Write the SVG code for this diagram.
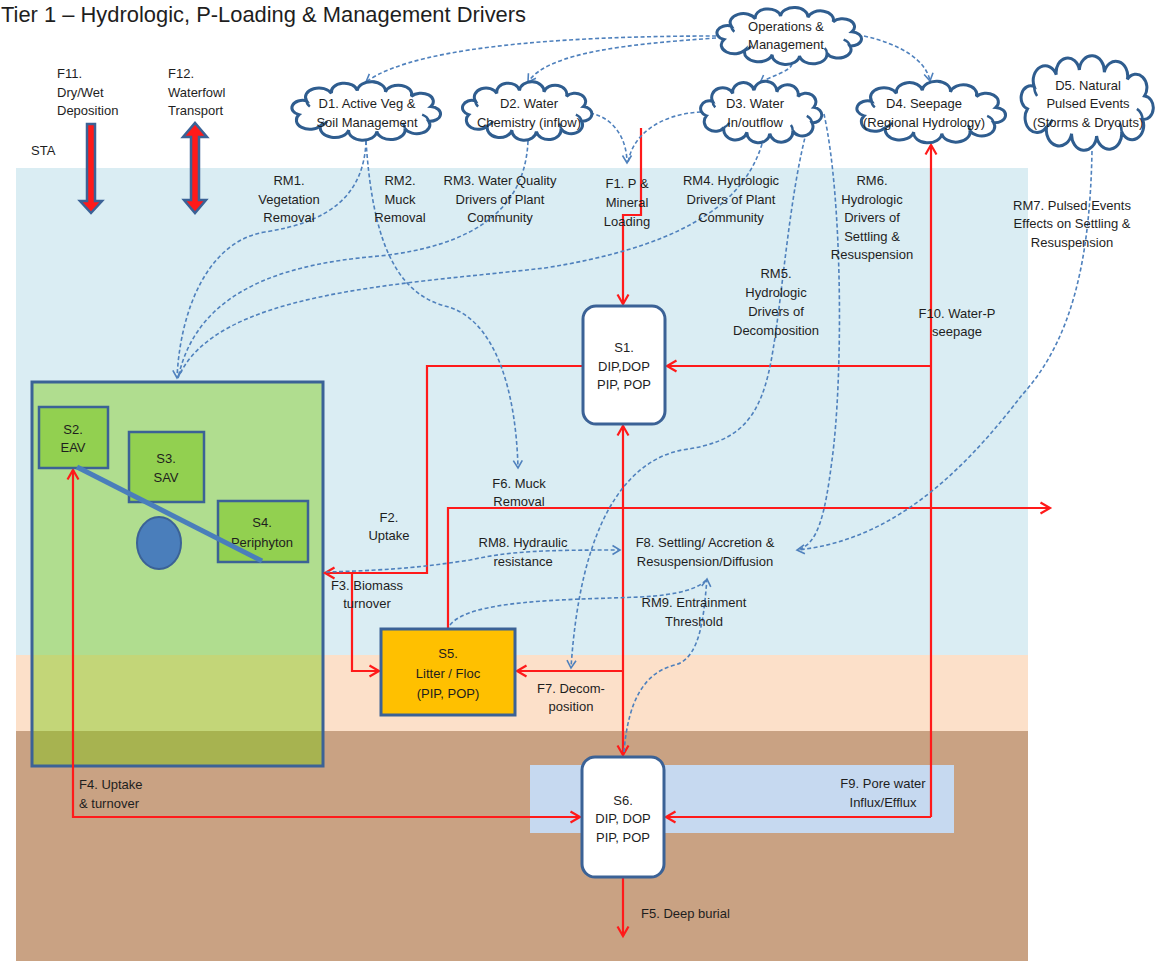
<svg xmlns="http://www.w3.org/2000/svg" width="1155" height="961" viewBox="0 0 1155 961">
<defs>
<style>
text{font-family:"Liberation Sans",Arial,sans-serif;font-size:13px;fill:#1e1e1e}
.c{text-anchor:middle}
.box{stroke:#3B6296;stroke-width:2.5}
.red{fill:none;stroke:#FF1A1A;stroke-width:2.2}
.dash{fill:none;stroke:#4F81BD;stroke-width:1.6;stroke-dasharray:4 2.5}
.cloud{fill:#fff;stroke:#2F5D8F;stroke-width:3;vector-effect:non-scaling-stroke}
.curl{fill:none;stroke:#2F5D8F;stroke-width:2.5;vector-effect:non-scaling-stroke}
.thick{fill:#FF1A1A;stroke:#3B6296;stroke-width:2.5}
</style>
<marker id="ra" viewBox="0 0 10 12" refX="9.5" refY="6" markerWidth="10" markerHeight="12" markerUnits="userSpaceOnUse" orient="auto-start-reverse" style="overflow:visible"><path d="M0,0.5 L9.5,6 L0,11.5" fill="none" stroke="#FF1A1A" stroke-width="2.2"/></marker>
<marker id="ba" viewBox="0 0 8 10" refX="7.5" refY="5" markerWidth="8" markerHeight="10" markerUnits="userSpaceOnUse" orient="auto" style="overflow:visible"><path d="M0,0.5 L7.5,5 L0,9.5" fill="none" stroke="#4F81BD" stroke-width="1.6"/></marker>
<g id="cloudShape">
<path class="cloud" d="M-62,5 A10,10 0 0 1 -55,-14 A10,10 0 0 1 -32,-24 A10,10 0 0 1 -8,-28 A10,10 0 0 1 18,-26 A10,10 0 0 1 42,-20 A10,10 0 0 1 60,-6 A10,10 0 0 1 58,14 A10,10 0 0 1 36,24 A10,10 0 0 1 10,28 A10,10 0 0 1 -16,26 A10,10 0 0 1 -42,20 A10,10 0 0 1 -62,5 Z"/>
<path class="curl" d="M-55,-14 A12,12 0 0 0 -52,-6 M58,14 A12,12 0 0 0 52,5 M-42,20 A12,12 0 0 0 -36,14 M36,24 A12,12 0 0 0 34,17"/>
</g>
</defs>

<g id="background">
<rect x="16" y="168" width="1012" height="487" fill="#DAEDF3"/>
<rect x="16" y="655" width="1012" height="76" fill="#FCE0C9"/>
<rect x="16" y="731" width="1012" height="230" fill="#C9A283"/>
<rect x="530" y="765" width="424" height="68" fill="#C6D9F0"/>
</g>

<text x="1" y="22" style="font-size:22px" textLength="525" lengthAdjust="spacingAndGlyphs">Tier 1 – Hydrologic, P-Loading &amp; Management Drivers</text>

<g id="vegetation">
<rect x="32" y="382" width="291" height="384" fill="#7BC80F" fill-opacity="0.44" class="box" style="stroke-width:3"/>
</g>

<g id="connectors">
<path class="red" d="M641,128 V215 H623 V304" marker-end="url(#ra)"/>
<path class="red" d="M931,817 V145" marker-end="url(#ra)"/>
<path class="red" d="M931,366 H667" marker-end="url(#ra)"/>
<path class="red" d="M931,817 H666" marker-end="url(#ra)"/>
<path class="red" d="M583,366 H427 V573 H325" marker-end="url(#ra)"/>
<path class="red" d="M352,573 V671 H379" marker-end="url(#ra)"/>
<path class="red" d="M623,671 H517" marker-end="url(#ra)"/>
<path class="red" d="M448,629 V508 H1050" marker-end="url(#ra)"/>
<path class="red" d="M73,470 V817 H580" marker-start="url(#ra)" marker-end="url(#ra)"/>
<path class="red" d="M623,426 V755" marker-start="url(#ra)" marker-end="url(#ra)"/>
<path class="red" d="M623,877 V936" marker-end="url(#ra)"/>
<path class="dash" d="M716,36 C600,36 420,42 366,82" marker-end="url(#ba)"/>
<path class="dash" d="M716,38 C630,44 548,52 528,82" marker-end="url(#ba)"/>
<path class="dash" d="M792,64 C790,72 770,76 760,83" marker-end="url(#ba)"/>
<path class="dash" d="M864,36 C900,44 926,60 930,81" marker-end="url(#ba)"/>
<path class="dash" d="M366,141 C364,195 330,222 265,232 C208,241 180,310 177,378" marker-end="url(#ba)"/>
<path class="dash" d="M366,141 C372,232 392,292 445,306 C495,318 516,390 518,468" marker-end="url(#ba)"/>
<path class="dash" d="M528,141 C525,212 470,246 380,256 C265,265 195,300 178,378"/>
<path class="dash" d="M762,144 C742,210 670,248 545,268 C395,285 215,292 178,378"/>
<path class="dash" d="M590,113 C615,118 627,140 627,163" marker-end="url(#ba)"/>
<path class="dash" d="M701,112 C660,114 632,135 628,163"/>
<path class="dash" d="M808,126 C790,190 783,290 773,350 C762,420 740,442 682,450 C622,462 580,530 571,668" marker-end="url(#ba)"/>
<path class="dash" d="M824,114 C843,200 843,380 832,460 C825,515 818,545 797,550"/>
<path class="dash" d="M1092,151 C1090,260 1072,340 1022,395 C972,460 900,540 797,550" marker-end="url(#ba)"/>
<path class="dash" d="M326,572 C400,570 430,566 470,560 C510,551 545,550 620,550" marker-end="url(#ba)"/>
<path class="dash" d="M450,625 C470,600 560,600 640,597 C680,595 700,588 707,579"/>
<path class="dash" d="M624,752 C628,700 645,672 675,665 C702,658 704,610 707,579" marker-end="url(#ba)"/>
</g>

<g id="S2"><rect x="39" y="407" width="69" height="61" fill="#92D050" class="box"/><text class="c" x="73" y="434">S2.</text><text class="c" x="73" y="452">EAV</text></g>
<g id="S3"><rect x="129" y="432" width="75" height="70" fill="#92D050" class="box"/><text class="c" x="166" y="463">S3.</text><text class="c" x="166" y="482">SAV</text></g>
<g id="S4"><rect x="218" y="501" width="90" height="61" fill="#92D050" class="box"/><text class="c" x="262" y="527">S4.</text><text class="c" x="262" y="547">Periphyton</text></g>
<g id="periphyton-link">
<line x1="77" y1="467" x2="262" y2="561" stroke="#4A7EBB" stroke-width="5"/>
<ellipse cx="159" cy="543" rx="22" ry="26" fill="#4A7EBB" stroke="#3B6296" stroke-width="2"/>
</g>

<g id="S1"><rect x="583" y="306" width="82" height="118" rx="13" fill="#fff" class="box" style="stroke-width:3"/><text class="c" x="624" y="352">S1.</text><text class="c" x="624" y="371">DIP,DOP</text><text class="c" x="624" y="389">PIP, POP</text></g>
<g id="S5"><rect x="381" y="629" width="134" height="86" fill="#FFC000" class="box" style="stroke-width:3"/><text class="c" x="448" y="658">S5.</text><text class="c" x="448" y="678">Litter / Floc</text><text class="c" x="448" y="698">(PIP, POP)</text></g>
<g id="S6"><rect x="582" y="757" width="82" height="120" rx="13" fill="#fff" class="box" style="stroke-width:3"/><text class="c" x="623" y="805">S6.</text><text class="c" x="623" y="823">DIP, DOP</text><text class="c" x="623" y="842">PIP, POP</text></g>

<g id="Ops"><use href="#cloudShape" transform="translate(789,36) scale(1.05,0.71)"/><text class="c" x="786" y="31">Operations &amp;</text><text class="c" x="786" y="49">Management</text></g>
<g id="D1"><use href="#cloudShape" transform="translate(366,111) scale(1.08,0.73)"/><text class="c" x="367" y="108">D1. Active Veg &amp;</text><text class="c" x="367" y="127">Soil Management</text></g>
<g id="D2"><use href="#cloudShape" transform="translate(527,111) scale(0.94,0.73)"/><text class="c" x="529" y="108">D2. Water</text><text class="c" x="529" y="127">Chemistry (inflow)</text></g>
<g id="D3"><use href="#cloudShape" transform="translate(761,112) scale(0.88,0.77)"/><text class="c" x="755" y="108">D3. Water</text><text class="c" x="755" y="127">In/outflow</text></g>
<g id="D4"><use href="#cloudShape" transform="translate(931,112) scale(1.08,0.77)"/><text class="c" x="924" y="108">D4. Seepage</text><text class="c" x="924" y="127">(Regional Hydrology)</text></g>
<g id="D5"><use href="#cloudShape" transform="translate(1087,103) scale(0.96,1.18)"/><text class="c" x="1088" y="90">D5. Natural</text><text class="c" x="1088" y="108">Pulsed Events</text><text class="c" x="1088" y="127">(Storms &amp; Dryouts)</text></g>

<g id="F11"><path class="thick" d="M87,124 H95 V201 H102 L91,213 L80,201 H87 Z"/><text x="57" y="78">F11.</text><text x="57" y="97">Dry/Wet</text><text x="57" y="115">Deposition</text></g>
<g id="F12"><path class="thick" d="M191,137 H183 L195,123 L207,137 H199 V200 H206 L195,213 L184,200 H191 Z"/><text x="168" y="78">F12.</text><text x="168" y="97">Waterfowl</text><text x="168" y="115">Transport</text></g>

<g id="labels">
<text x="31" y="155">STA</text>
<text class="c" x="289" y="185">RM1.</text><text class="c" x="289" y="204">Vegetation</text><text class="c" x="289" y="222">Removal</text>
<text class="c" x="400" y="185">RM2.</text><text class="c" x="400" y="204">Muck</text><text class="c" x="400" y="222">Removal</text>
<text class="c" x="500" y="185">RM3. Water Quality</text><text class="c" x="500" y="204">Drivers of Plant</text><text class="c" x="500" y="222">Community</text>
<text class="c" x="627" y="188">F1. P &amp;</text><text class="c" x="627" y="207">Mineral</text><text class="c" x="627" y="226">Loading</text>
<text class="c" x="731" y="185">RM4. Hydrologic</text><text class="c" x="731" y="204">Drivers of Plant</text><text class="c" x="731" y="222">Community</text>
<text class="c" x="872" y="185">RM6.</text><text class="c" x="872" y="204">Hydrologic</text><text class="c" x="872" y="222">Drivers of</text><text class="c" x="872" y="241">Settling &amp;</text><text class="c" x="872" y="259">Resuspension</text>
<text class="c" x="1072" y="210">RM7. Pulsed Events</text><text class="c" x="1072" y="228">Effects on Settling &amp;</text><text class="c" x="1072" y="247">Resuspension</text>
<text class="c" x="776" y="278">RM5.</text><text class="c" x="776" y="297">Hydrologic</text><text class="c" x="776" y="316">Drivers of</text><text class="c" x="776" y="335">Decomposition</text>
<text class="c" x="957" y="318">F10. Water-P</text><text class="c" x="957" y="336">seepage</text>
<text class="c" x="519" y="488">F6. Muck</text><text class="c" x="519" y="506">Removal</text>
<text class="c" x="389" y="522">F2.</text><text class="c" x="389" y="540">Uptake</text>
<text class="c" x="523" y="547">RM8. Hydraulic</text><text class="c" x="523" y="566">resistance</text>
<text class="c" x="705" y="547">F8. Settling/ Accretion &amp;</text><text class="c" x="705" y="566">Resuspension/Diffusion</text>
<text class="c" x="367" y="590">F3. Biomass</text><text class="c" x="367" y="608">turnover</text>
<text class="c" x="694" y="607">RM9. Entrainment</text><text class="c" x="694" y="626">Threshold</text>
<text class="c" x="571" y="693">F7. Decom-</text><text class="c" x="571" y="711">position</text>
<text x="79" y="789">F4. Uptake</text><text x="79" y="808">&amp; turnover</text>
<text class="c" x="883" y="788">F9. Pore water</text><text class="c" x="883" y="807">Influx/Efflux</text>
<text x="641" y="918">F5. Deep burial</text>
</g>
</svg>
